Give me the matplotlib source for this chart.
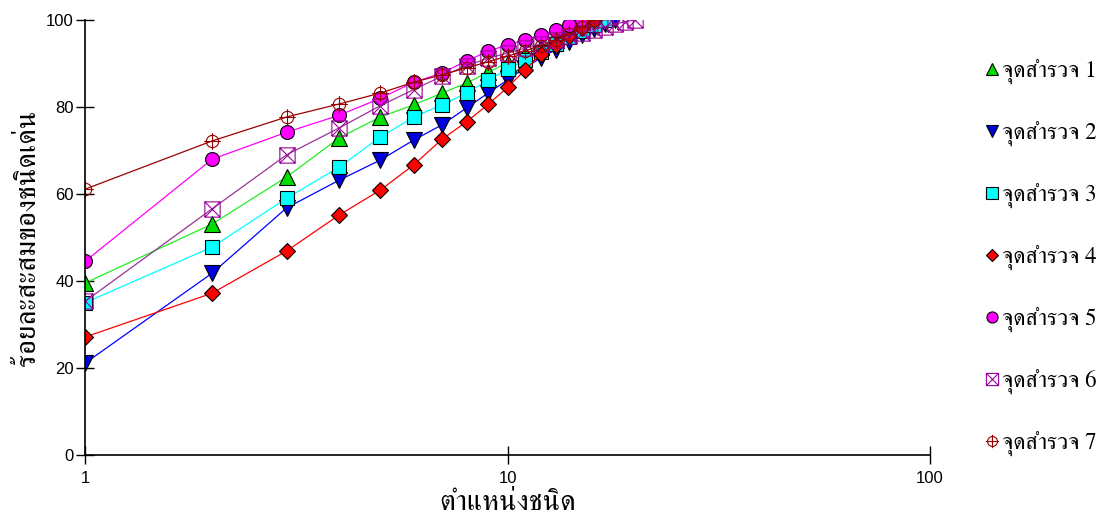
import matplotlib
matplotlib.use('Agg')
import matplotlib.pyplot as plt
from matplotlib.path import Path
from matplotlib.lines import Line2D

# cumulative % dominance by species rank, one list per site
site1 = [39.5, 53.1, 63.9, 72.9, 77.7, 80.5, 83.2, 85.5, 88.0, 90.2, 92.1, 93.9, 95.5, 97.1, 98.6, 100]
site2 = [21.1, 41.8, 56.8, 63.2, 67.8, 72.4, 75.9, 79.8, 83.2, 86.2, 89.0, 91.3, 93.2, 95.0, 96.6, 98.0, 99.1, 100]
site3 = [35.0, 47.8, 59.0, 66.2, 73.1, 77.7, 80.5, 83.2, 86.2, 88.7, 90.8, 92.7, 94.4, 96.0, 97.5, 98.8, 100]
site4 = [27.1, 37.2, 46.9, 55.2, 60.9, 66.7, 72.6, 76.6, 80.6, 84.5, 88.5, 92.2, 94.3, 96.3, 98.2, 100]
site5 = [44.5, 68.0, 74.2, 78.1, 82.0, 85.7, 87.8, 90.6, 92.8, 94.3, 95.4, 96.6, 97.7, 98.9, 100]
site6 = [35.3, 56.6, 69.0, 75.2, 80.3, 84.0, 87.1, 89.5, 91.2, 92.4, 93.5, 94.5, 95.4, 96.3, 97.1, 97.8, 98.5, 99.1, 99.6, 100]
site7 = [61.1, 72.2, 77.7, 80.7, 83.2, 85.7, 87.4, 89.0, 90.4, 91.7, 92.9, 94.1, 95.3, 96.7, 98.3, 100]

labels = ['จุดสำรวจ 1', 'จุดสำรวจ 2', 'จุดสำรวจ 3', 'จุดสำรวจ 4',
          'จุดสำรวจ 5', 'จุดสำรวจ 6', 'จุดสำรวจ 7']
xticks = [1, 10, 100]
yticks = [0, 20, 40, 60, 80, 100]

thai_font = ['FreeSerif', 'DejaVu Serif']

# box with an X, and circle with a cross through it
box_x = Path([(-1, -1), (1, -1), (1, 1), (-1, 1), (-1, -1), (-1, -1), (1, 1), (-1, 1), (1, -1)],
             [Path.MOVETO, Path.LINETO, Path.LINETO, Path.LINETO, Path.LINETO,
              Path.MOVETO, Path.LINETO, Path.MOVETO, Path.LINETO])
cross = Path([(-1.35, 0), (1.35, 0), (0, -1.35), (0, 1.35)],
             [Path.MOVETO, Path.LINETO, Path.MOVETO, Path.LINETO])
circ_cross = Path.make_compound_path(Path.unit_circle(), cross)

styles = [
    dict(color='#22ee22', marker='^', mfc='#00dd00', mec='black', ms=11),
    dict(color='#0000ff', marker='v', mfc='#0000dd', mec='black', ms=11),
    dict(color='#00ffff', marker='s', mfc='#00ffff', mec='black', ms=10),
    dict(color='#ff0000', marker='D', mfc='#ff0000', mec='black', ms=8),
    dict(color='#ff00ff', marker='o', mfc='#ff00ff', mec='black', ms=10),
    dict(color='#993399', marker=box_x, mfc='none', mec='#990099', ms=11),
    dict(color='#990000', marker=circ_cross, mfc='none', mec='#990000', ms=12),
]
series = [site1, site2, site3, site4, site5, site6, site7]

fig = plt.figure(figsize=(11.12, 5.19), dpi=100)
ax = fig.add_axes([0.0764, 0.1233, 0.76, 0.8382])

for vals, st in zip(series, styles):
    ranks = list(range(1, len(vals) + 1))
    ax.plot(ranks, vals, lw=0.9, mew=0.8, **st)

ax.set_xscale('log')
ax.set_xlim(1, 100)
ax.set_ylim(0, 100)
ax.set_xticks(xticks)
ax.set_xticklabels([str(t) for t in xticks])
ax.set_yticks(yticks)
ax.minorticks_off()
ax.tick_params(direction='inout', length=13, width=1, labelsize=12)
ax.tick_params(axis='x', pad=5)
ax.tick_params(axis='y', pad=1.5)
for lab in ax.get_xticklabels() + ax.get_yticklabels():
    lab.set_family('Liberation Sans')
ax.spines['top'].set_visible(False)
ax.spines['right'].set_visible(False)
for s in ('left', 'bottom'):
    ax.spines[s].set_linewidth(1.2)
ax.patch.set_visible(False)

ax.set_xlabel('ตำแหน่งชนิด', family=thai_font, fontsize=21)
ax.set_ylabel('ร้อยละสะสมของชนิดเด่น', family=thai_font, fontsize=21)
ax.xaxis.set_label_coords(0.5, -0.083)
ax.yaxis.set_label_coords(-0.052, 0.5)

handles = [Line2D([], [], ls='none', marker=st['marker'], mfc=st['mfc'], mec=st['mec'],
                  ms=st['ms'] * 0.8, mew=0.8) for st in styles]
fig.legend(handles, labels, loc='upper left', bbox_to_anchor=(0.8835, 0.887),
           frameon=False, prop={'family': thai_font, 'size': 16.5},
           labelspacing=1.61, handletextpad=0.05, handlelength=0.8,
           borderpad=0, borderaxespad=0)

fig.savefig('out.png', dpi=100)
